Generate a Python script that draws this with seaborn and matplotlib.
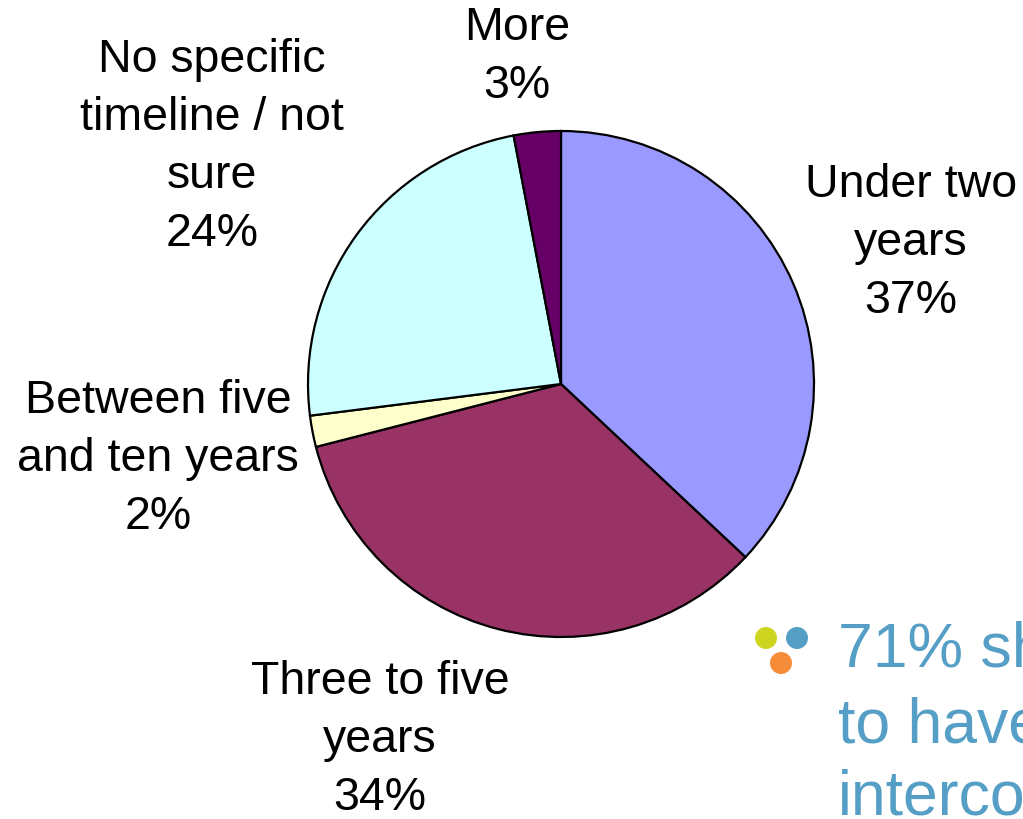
import matplotlib
matplotlib.use("Agg")
import matplotlib.pyplot as plt
import seaborn as sns
from matplotlib.patches import Circle

sns.set_theme(style="white")
plt.rcParams['font.family'] = ['Liberation Sans', 'DejaVu Sans']

# Data
categories = ["Under two\nyears", "Three to five\nyears", "Between five\nand ten years",
              "No specific\ntimeline / not\nsure", "More"]
values = [37, 34, 2, 24, 3]
colors = ["#9999FF", "#993366", "#FFFFCC", "#CCFFFF", "#660066"]
callout_lines = ["71% should", "to have", "interconnection"]

# Label positions (pixel coords, y from top) - layout only
label_pos = [(911, 243), (380, 740), (158, 459), (212, 147), (517, 57)]

W, H = 1023, 820
fig = plt.figure(figsize=(W / 100, H / 100), dpi=100)
ax = fig.add_axes([0, 0, 1, 1])

cx, cy, r = 561, 385, 253
wedges, _ = ax.pie(values, colors=colors, startangle=90, counterclock=False,
                   center=(cx, H - cy), radius=r, frame=True,
                   wedgeprops=dict(edgecolor="black", linewidth=1.6))
ax.set_xlim(0, W)
ax.set_ylim(0, H)
ax.set_aspect("equal")
ax.axis("off")

for cat, v, (x, y) in zip(categories, values, label_pos):
    ax.text(x, H - y, f"{cat}\n{v}%", ha="center", va="center", fontsize=33.5,
            color="black", linespacing=1.42)

# Decorative bullet and callout text
for (x, y, c) in [(766, 639, "#CDD521"), (797, 639, "#559FC7"), (781, 664, "#F68B38")]:
    ax.add_patch(Circle((x, H - y), 11, color=c, lw=0))

for line, base in zip(callout_lines, [667, 743, 815]):
    ax.text(838, H - base, line, ha="left", va="baseline",
            fontsize=45, color="#559FC7")

fig.savefig("out.png", dpi=100)
